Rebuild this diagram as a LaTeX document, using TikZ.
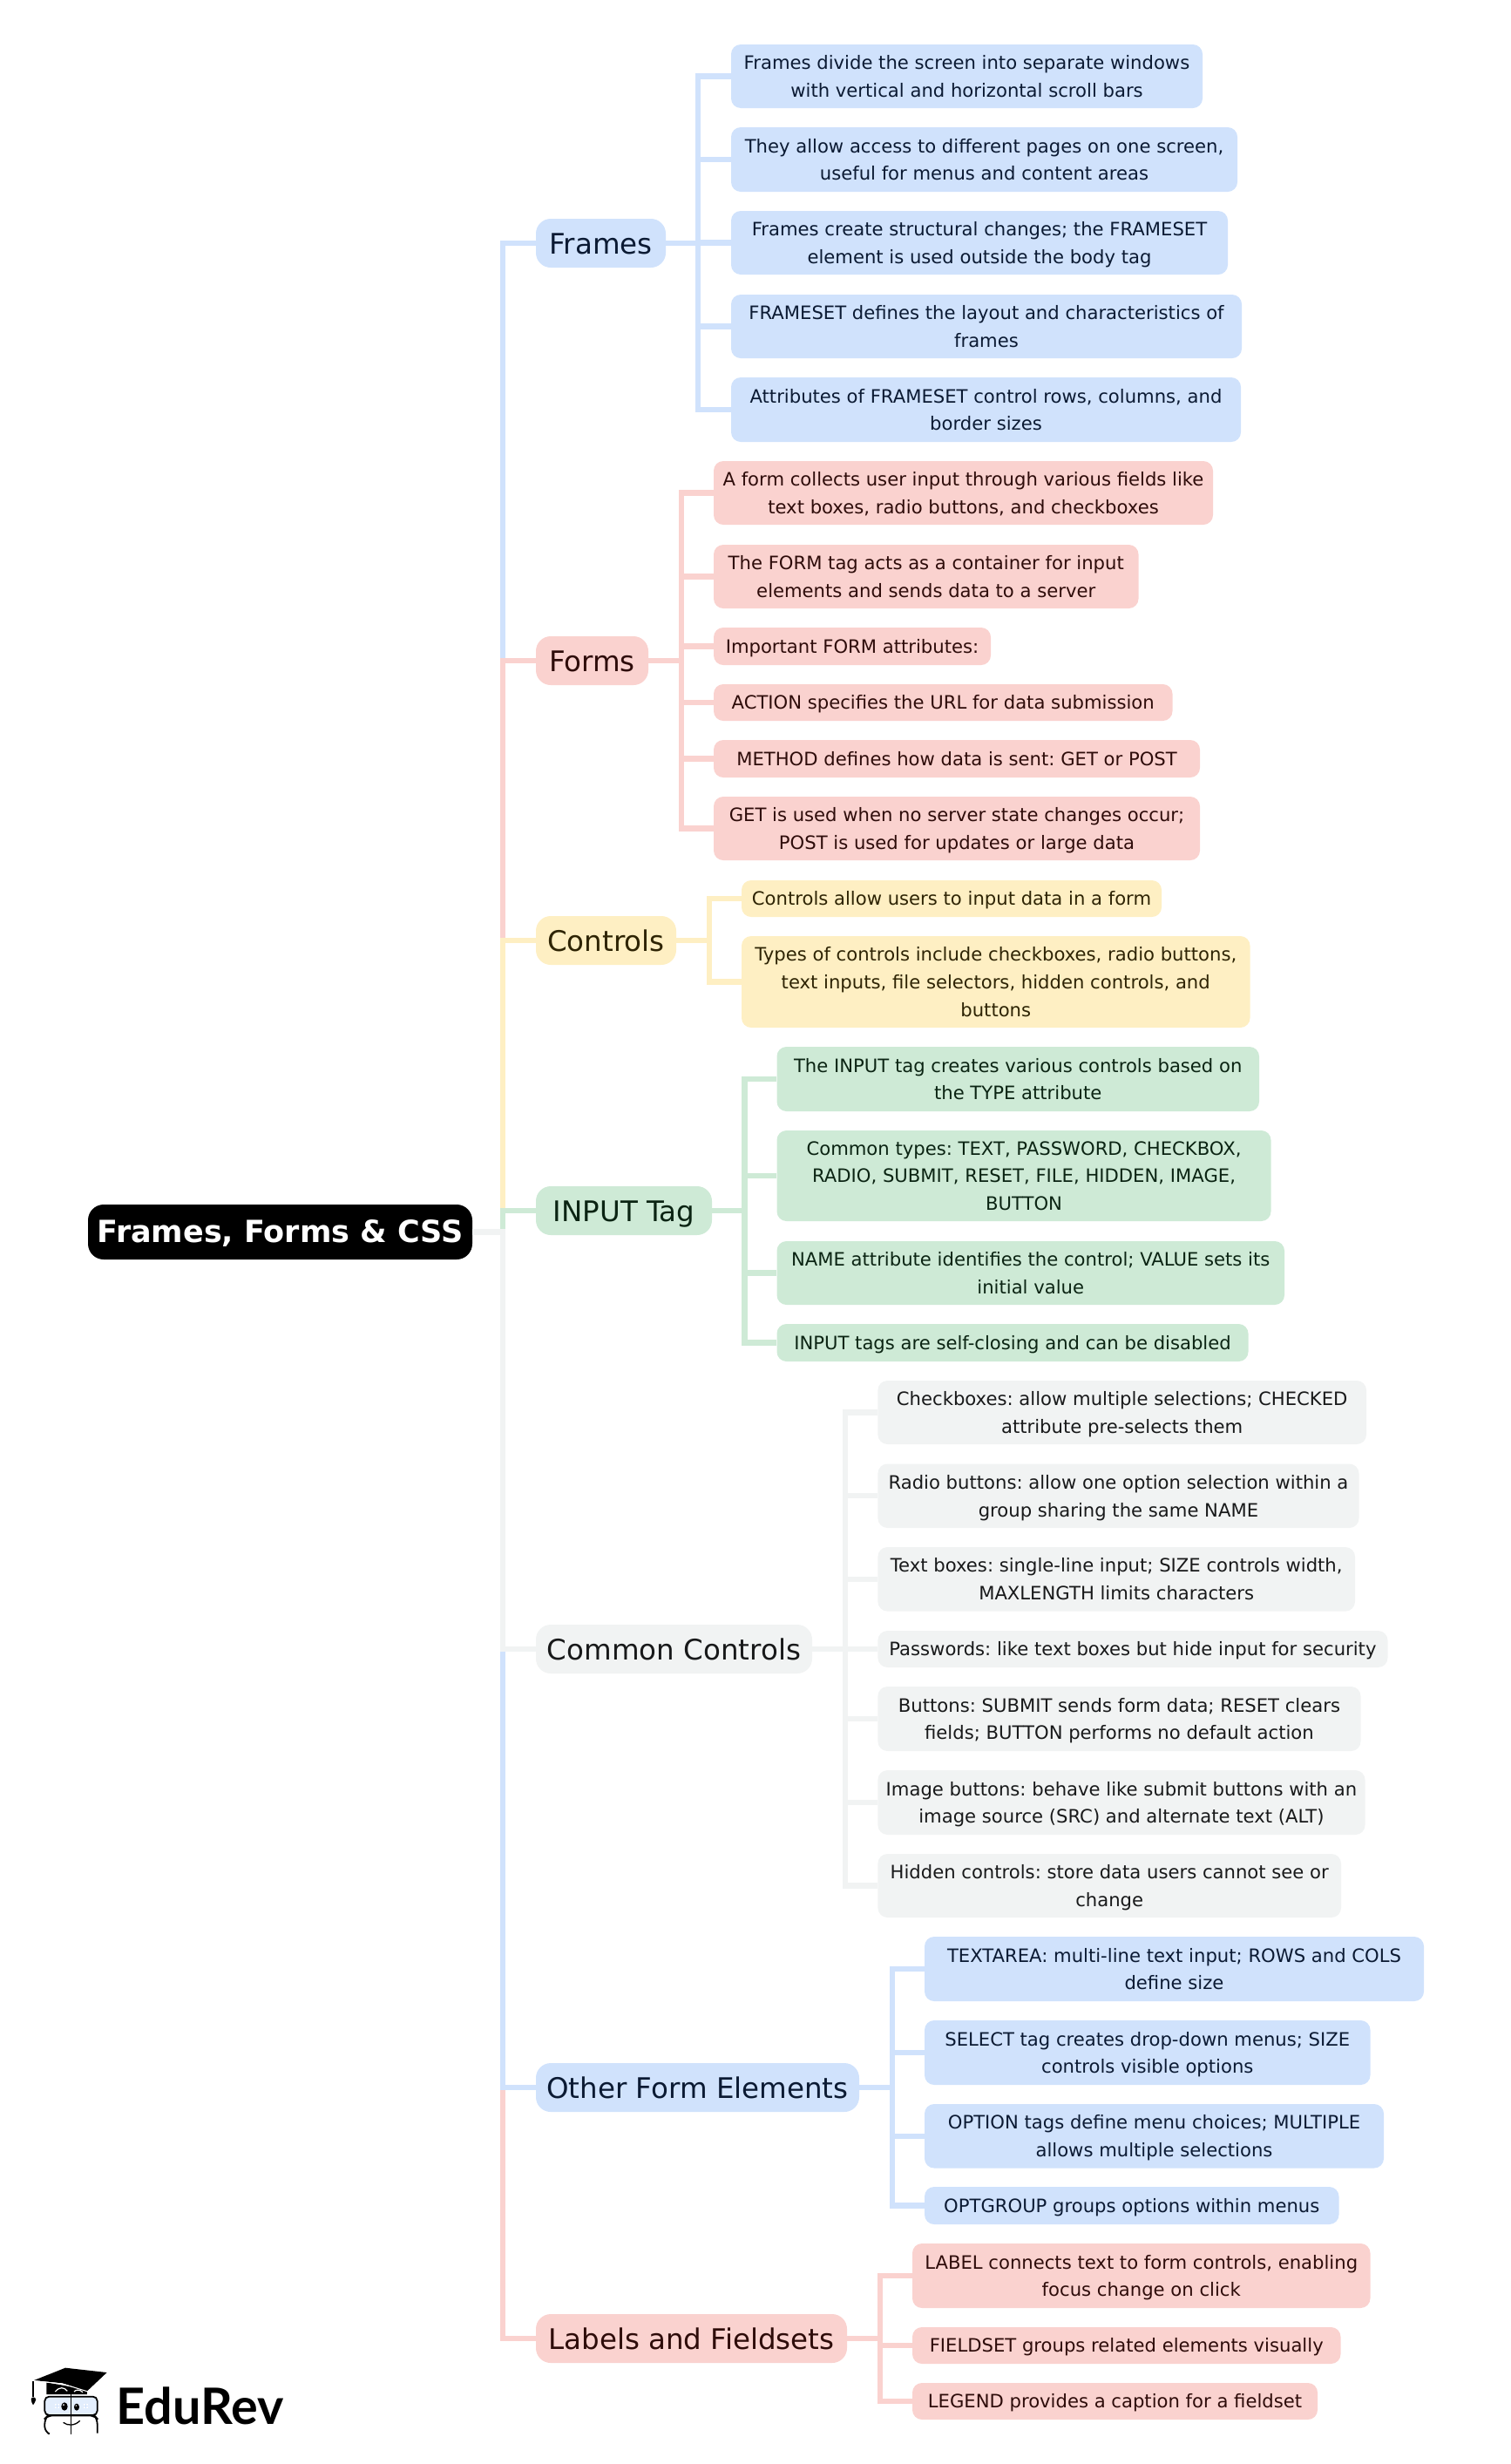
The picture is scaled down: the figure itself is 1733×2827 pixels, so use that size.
\documentclass[tikz,border=0pt]{standalone}
\usepackage{fontspec}
\setmainfont{DejaVu Sans}
\newfontfamily\logofont{Lato}
\frenchspacing
\definecolor{cblue}{HTML}{D0E2FC}
\definecolor{cred}{HTML}{FAD2CF}
\definecolor{cyellow}{HTML}{FEEFC3}
\definecolor{cgreen}{HTML}{CEEAD6}
\definecolor{cgrey}{HTML}{F1F3F3}
\definecolor{tblue}{HTML}{0B1A33}
\definecolor{tred}{HTML}{2E0C0A}
\definecolor{tyellow}{HTML}{2E2404}
\definecolor{tgreen}{HTML}{0B2413}
\definecolor{tgrey}{HTML}{18191A}
\tikzset{
  boxbase/.style={inner sep=0pt,anchor=center},
  leafbox/.style={boxbase,rounded corners=11pt,font=\fontsize{21.15}{31.7}\selectfont\frenchspacing\def\tshift{-1.6pt}},
  hubbox/.style={boxbase,rounded corners=17pt,font=\fontsize{32.5}{56}\selectfont\frenchspacing\def\tshift{-1pt}},
  rootbox/.style={boxbase,rounded corners=18pt,fill=black,text=white,font=\fontsize{35}{60}\selectfont\bfseries\frenchspacing\def\tshift{0pt}},
  gblue/.style={fill=cblue,text=tblue},
  gred/.style={fill=cred,text=tred},
  gyellow/.style={fill=cyellow,text=tyellow},
  ggreen/.style={fill=cgreen,text=tgreen},
  ggrey/.style={fill=cgrey,text=tgrey},
  conn/.style={line width=6.2pt,miter limit=10},
}
% name, x1, x2, y1, y2, styles, text
\newcommand\bx[7]{\node[#6,minimum width={(#3-#2)*1pt},minimum height={(#5-#4)*1pt}] (#1) at ({(#2+#3)/2},{(#4+#5)/2}) {\raisebox{\tshift}[\height][\depth]{\begin{tabular}{@{}c@{}}#7\end{tabular}}};}
% hub, trunk, leaves
\newcommand\fan[3]{\foreach \lf in {#3} {\draw[conn,draw=#1] (#2.east) -- (t#2 |- #2) |- (\lf.west);}}
\begin{document}
\begin{tikzpicture}[x=1pt,y=-1pt]
\useasboundingbox (0,0) rectangle (1733,2827);
% root
\bx{root}{101}{542}{1382}{1445}{rootbox}{Frames, Forms \& CSS}
\coordinate (main) at (577,0);
% hubs
\bx{frames}{615}{764}{251}{307}{hubbox,gblue}{Frames}
\bx{forms}{615}{744}{730}{786}{hubbox,gred}{Forms}
\bx{controls}{615}{776}{1051}{1107}{hubbox,gyellow}{Controls}
\bx{input}{615}{817}{1361}{1417}{hubbox,ggreen}{INPUT Tag}
\bx{common}{615}{932}{1864}{1920}{hubbox,ggrey}{Common Controls}
\bx{other}{615}{986}{2367}{2423}{hubbox,gblue}{Other Form Elements}
\bx{labels}{615}{972}{2655}{2711}{hubbox,gred}{Labels and Fieldsets}
\coordinate (tframes) at (801,0);
\coordinate (tforms) at (782,0);
\coordinate (tcontrols) at (814,0);
\coordinate (tinput) at (854.5,0);
\coordinate (tcommon) at (970,0);
\coordinate (tother) at (1024,0);
\coordinate (tlabels) at (1010,0);
% Frames
\bx{fa}{839}{1380}{51}{124}{leafbox,gblue}{Frames divide the screen into separate windows\\with vertical and horizontal scroll bars}
\bx{fb}{839}{1420}{146}{220}{leafbox,gblue}{They allow access to different pages on one screen,\\useful for menus and content areas}
\bx{fc}{839}{1409}{242}{315}{leafbox,gblue}{Frames create structural changes; the FRAMESET\\element is used outside the body tag}
\bx{fd}{839}{1425}{338}{411}{leafbox,gblue}{FRAMESET defines the layout and characteristics of\\frames}
\bx{fe}{839}{1424}{433}{507}{leafbox,gblue}{Attributes of FRAMESET control rows, columns, and\\border sizes}
% Forms
\bx{aa}{819}{1392}{529}{602}{leafbox,gred}{A form collects user input through various fields like\\text boxes, radio buttons, and checkboxes}
\bx{ab}{819}{1306.5}{625}{698}{leafbox,gred}{The FORM tag acts as a container for input\\elements and sends data to a server}
\bx{ac}{819}{1137}{720}{763}{leafbox,gred}{Important FORM attributes:}
\bx{ad}{819}{1345.5}{785}{827}{leafbox,gred}{ACTION specifies the URL for data submission}
\bx{ae}{819}{1377}{849}{892}{leafbox,gred}{METHOD defines how data is sent: GET or POST}
\bx{af}{819}{1377}{914}{987}{leafbox,gred}{GET is used when no server state changes occur;\\POST is used for updates or large data}
% Controls
\bx{ca}{851}{1333}{1010}{1052}{leafbox,gyellow}{Controls allow users to input data in a form}
\bx{cb}{851}{1434.5}{1074}{1179}{leafbox,gyellow}{Types of controls include checkboxes, radio buttons,\\text inputs, file selectors, hidden controls, and\\buttons}
% INPUT
\bx{ia}{891.5}{1445}{1201}{1275}{leafbox,ggreen}{The INPUT tag creates various controls based on\\the TYPE attribute}
\bx{ib}{891.5}{1458.5}{1297}{1401}{leafbox,ggreen}{Common types: TEXT, PASSWORD, CHECKBOX,\\RADIO, SUBMIT, RESET, FILE, HIDDEN, IMAGE,\\BUTTON}
\bx{ic}{891.5}{1474}{1424}{1497}{leafbox,ggreen}{NAME attribute identifies the control; VALUE sets its\\initial value}
\bx{id}{891.5}{1432.5}{1519}{1562}{leafbox,ggreen}{INPUT tags are self-closing and can be disabled}
% Common
\bx{ga}{1007.4}{1568}{1584}{1657}{leafbox,ggrey}{Checkboxes: allow multiple selections; CHECKED\\attribute pre-selects them}
\bx{gb}{1007.4}{1559.5}{1679.5}{1753}{leafbox,ggrey}{Radio buttons: allow one option selection within a\\group sharing the same NAME}
\bx{gc}{1007.4}{1555}{1775}{1848.6}{leafbox,ggrey}{Text boxes: single-line input; SIZE controls width,\\MAXLENGTH limits characters}
\bx{gd}{1007.4}{1592.5}{1871}{1913}{leafbox,ggrey}{Passwords: like text boxes but hide input for security}
\bx{ge}{1007.4}{1561.5}{1935}{2009}{leafbox,ggrey}{Buttons: SUBMIT sends form data; RESET clears\\fields; BUTTON performs no default action}
\bx{gf}{1007.4}{1566.5}{2031}{2105}{leafbox,ggrey}{Image buttons: behave like submit buttons with an\\image source (SRC) and alternate text (ALT)}
\bx{gg}{1007.4}{1539}{2127}{2200}{leafbox,ggrey}{Hidden controls: store data users cannot see or\\change}
% Other
\bx{oa}{1061}{1634}{2222}{2296}{leafbox,gblue}{TEXTAREA: multi-line text input; ROWS and COLS\\define size}
\bx{ob}{1061}{1572.5}{2318}{2392}{leafbox,gblue}{SELECT tag creates drop-down menus; SIZE\\controls visible options}
\bx{oc}{1061}{1588}{2414}{2487.5}{leafbox,gblue}{OPTION tags define menu choices; MULTIPLE\\allows multiple selections}
\bx{od}{1061}{1536.5}{2509}{2552}{leafbox,gblue}{OPTGROUP groups options within menus}
% Labels
\bx{la}{1047}{1572.5}{2574}{2648}{leafbox,gred}{LABEL connects text to form controls, enabling\\focus change on click}
\bx{lb}{1047}{1538.5}{2670}{2712}{leafbox,gred}{FIELDSET groups related elements visually}
\bx{lc}{1047}{1512}{2734}{2776}{leafbox,gred}{LEGEND provides a caption for a fieldset}
% connectors, root to hubs
\draw[conn,draw=cblue] (root.east) -- (main |- root) |- (frames.west);
\draw[conn,draw=cred] (root.east) -- (main |- root) |- (forms.west);
\draw[conn,draw=cyellow] (root.east) -- (main |- root) |- (controls.west);
\draw[conn,draw=cgreen] (root.east) -- (main |- root) |- (input.west);
\draw[conn,draw=cred] (root.east) -- (main |- root) |- (labels.west);
\draw[conn,draw=cblue] (root.east) -- (main |- root) |- (other.west);
\draw[conn,draw=cgrey] (root.east) -- (main |- root) |- (common.west);
% hub to leaves
\fan{cblue}{frames}{fa,fb,fc,fd,fe}
\fan{cred}{forms}{aa,ab,ac,ad,ae,af}
\fan{cyellow}{controls}{ca,cb}
\fan{cgreen}{input}{ia,ib,ic,id}
\fan{cgrey}{common}{ga,gb,gc,gd,ge,gf,gg}
\fan{cblue}{other}{oa,ob,oc,od}
\fan{cred}{labels}{la,lb,lc}
% logo
\begin{scope}[shift={(0,2600)},x=0.3333pt,y=-0.3333pt]
\fill[black] (160,400) -- (160,441) -- (300,441) -- (300,425) -- cycle;
\fill[black] (117,393) -- (225,350) -- (368,366) -- (300,430) -- (215,403) -- cycle;
\draw[white,line width=1pt] (117,395) -- (215,405) -- (300,431);
\draw[white,line width=1.2pt] (190,432) .. controls (205,415) and (220,415) .. (232,430);
\draw[white,line width=1.2pt] (255,432) .. controls (262,424) and (275,424) .. (285,434);
\draw[black,line width=1.3pt] (114,395) -- (114,450);
\fill[black] (107,458) .. controls (108,450) and (120,448) .. (124,458) .. controls (123,466) and (118,472) .. (114,478) .. controls (111,472) and (107,466) .. (107,458) -- cycle;
\draw[black,line width=1.8pt,fill=cblue!60!white,rounded corners=5pt] (154,449) rectangle (335,513);
\draw[black,line width=1.8pt,rounded corners=6pt] (165,575) -- (154,570) -- (154,525) -- (165,514) -- (325,514) -- (335,525) -- (335,575);
\draw[black,line width=1.5pt] (245,430) -- (245,578);
\fill[black] (222,483) ellipse [x radius=11,y radius=14];
\fill[black] (264,485) ellipse [x radius=9,y radius=12];
\fill[white] (219,477) circle (3);
\fill[white] (262,480) circle (2.5);
\fill[white] (188,474) rectangle (204,490);
\fill[white] (287,474) rectangle (303,490);
\draw[cblue,line width=0.5pt] (188,482) -- (204,482) (196,474) -- (196,490) (287,482) -- (303,482) (295,474) -- (295,490);
\draw[black,line width=1.3pt] (218,538) .. controls (232,550) and (258,550) .. (275,532);
\node[anchor=base west,inner sep=0pt,font=\logofont\fontsize{57.5}{60}\selectfont\bfseries] (logotext) at (401,545) {EduRev};
\end{scope}
\end{tikzpicture}
\end{document}
